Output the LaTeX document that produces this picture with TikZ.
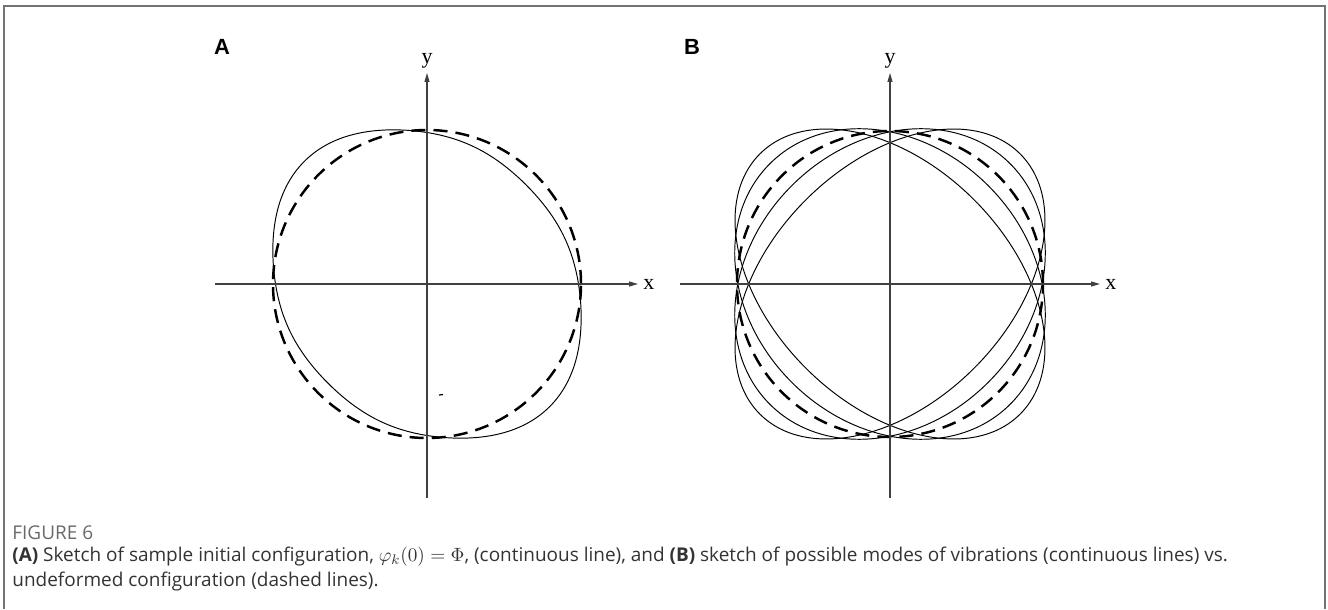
\documentclass[tikz,border=0pt]{standalone}
\usepackage{fontspec}
\setmainfont{Open Sans}
\newfontfamily\serifletters{Liberation Serif}
\newfontfamily\panelsans{Liberation Sans}
\usepackage{tikz}
\usetikzlibrary{
  arrows.meta,
  positioning
}
\definecolor{captiongray}{HTML}{333333}
\definecolor{figgray}{HTML}{6A6A6A}
\tikzset{
  axisline/.style={draw=black!75, line width=0.6pt},
  axisarrow/.style={axisline, -{Triangle[length=5pt, width=2.8pt]}},
  modecurve/.style={draw=black, line width=0.55pt},
  refcircle/.style={draw=black, line width=1.4pt,
    dash pattern=on 8pt off 4.6pt},
  axislabel/.style={inner sep=0pt,
    font=\serifletters\fontsize{12.5}{12.5}\selectfont},
  panellabel/.style={inner sep=0pt,
    font=\panelsans\bfseries\fontsize{12.5}{12.5}\selectfont},
  framebar/.style={draw=black!55, line width=0.8pt},
}

\begin{document}
\begin{tikzpicture}[
  x=0.02cm, y=0.02cm,
  declare function={
    wob(\t)=sin(2*\t);
    deform(\t)=151.5*(1-0.08*wob(\t)+0.035*wob(\t)*wob(\t)
      -0.03*wob(\t)*wob(\t)*wob(\t));
  },
  capfigure/.style={inner sep=0pt, text=figgray,
    font=\fontsize{10.8}{11}\selectfont},
  captext/.style={inner sep=0pt, text=captiongray, align=left,
    font=\fontsize{10.8}{14.2}\selectfont}
]
  \useasboundingbox (0,0) rectangle (1328,609);
  % Frame
  \draw[framebar] (4,0) -- (4,603) -- (1325,603) -- (1325,0);

  % Panel A
  \coordinate (oA) at (427,325);
  \node[panellabel] (labA) at (222,562) {A};
  \draw[refcircle] (oA) circle [radius=154];
  \begin{scope}[shift={(oA)}]
    \draw[modecurve] plot[smooth, domain=0:360, samples=145]
      (\x:{deform(\x)}) -- cycle;
  \end{scope}
  \draw[modecurve, line width=0.7pt] (439,214) -- (443,214.4);
  \coordinate (Axl) at (215,325);
  \coordinate (Axr) at (638,325);
  \coordinate (Ayb) at (427,111);
  \coordinate (Ayt) at (427,536);
  \draw[axisarrow] (Axl) -- (Axr);
  \draw[axisarrow] (Ayb) -- (Ayt);
  \node[axislabel, right=2.8pt of Axr] (Axlab) {x};
  \node[axislabel, above=2.6pt of Ayt] (Aylab) {y};

  % Panel B
  \coordinate (oB) at (890,325);
  \node[panellabel] (labB) at (692,562) {B};
  \draw[refcircle] (oB) circle [radius=153];
  \foreach \ang in {45,135} {
    \draw[modecurve, rotate around={\ang:(oB)}]
      (oB) ellipse [x radius=184, y radius=119];
    \draw[modecurve, rotate around={\ang:(oB)}]
      (oB) ellipse [x radius=170, y radius=139];
  }
  \coordinate (Bxl) at (680,325);
  \coordinate (Bxr) at (1100,325);
  \coordinate (Byb) at (890,111);
  \coordinate (Byt) at (890,536);
  \draw[axisarrow] (Bxl) -- (Bxr);
  \draw[axisarrow] (Byb) -- (Byt);
  \node[axislabel, right=2.8pt of Bxr] (Bxlab) {x};
  \node[axislabel, above=2.6pt of Byt] (Bylab) {y};

  % Caption
  \node[capfigure, anchor=west] (figno) at (12,76) {FIGURE 6};
  \node[captext, below=3.7pt of figno.south west, anchor=north west]
    (capbody) {\textbf{(A)} Sketch of sample initial configuration,
    $\varphi_k(0)=\Phi$, (continuous line), and \textbf{(B)} sketch of
    possible modes of vibrations (continuous lines) vs.\\
    undeformed configuration (dashed lines).};
\end{tikzpicture}
\end{document}
